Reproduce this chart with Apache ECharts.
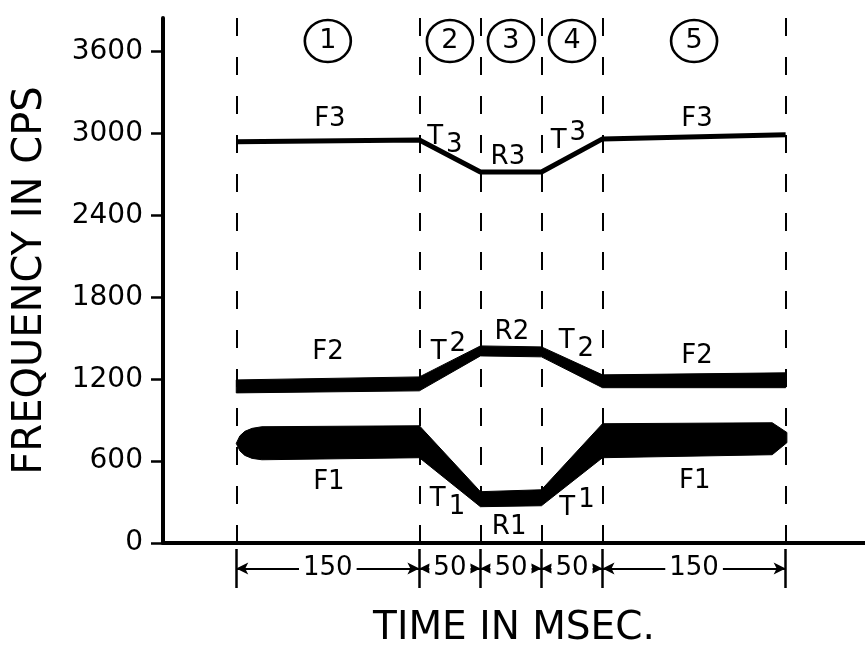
<!DOCTYPE html>
<html><head><meta charset="utf-8">
<script src="https://cdn.jsdelivr.net/npm/echarts@6/dist/echarts.min.js"></script>
<style>html,body{margin:0;padding:0;background:#fff}#c{width:865px;height:657px}</style>
</head><body><div id="c"></div>
<script>
// ---- data (times in ms, frequencies in cps) ----
const segBounds = [0, 150, 200, 250, 300, 450];
const segLabels = ['150', '50', '50', '50', '150'];
const segNumbers = ['1', '2', '3', '4', '5'];
const yTicks = [0, 600, 1200, 1800, 2400, 3000, 3600];

const f1Time = [0, 3, 7, 13, 21, 150, 200, 250, 300, 439, 451];
const f1Low  = [730, 675, 642, 620, 610, 625, 266, 273, 625, 647, 735];
const f1High = [730, 785, 818, 840, 852, 859, 376, 390, 874, 881, 810];

const f2Time = [0, 150, 200, 250, 300, 450];
const f2Low  = [1100, 1115, 1371, 1364, 1138, 1138];
const f2High = [1195, 1217, 1444, 1437, 1232, 1247];

const f3Time = [0, 150, 200, 250, 300, 450];
const f3Freq = [2941, 2953, 2719, 2719, 2961, 2991];

// annotation anchors (ms, cps)
const annText = ['F3', 'T3', 'R3', 'T3', 'F3', 'F2', 'T2', 'R2', 'T2', 'F2', 'F1', 'T1', 'R1', 'T1', 'F1'];
const annKind = ['', 'sub', '', 'sup', '', '', 'sup', '', 'sub', '', '', 'sub', '', 'sup', ''];
const annX = [76.7, 170.9, 222.5, 272.1, 377.4, 75.1, 173.8, 225.8, 278.6, 377.4, 75.9, 173.0, 223.5, 279.1, 375.6];
const annY = [3107, 2972, 2829, 2943, 3107, 1401, 1397, 1547, 1478, 1372, 442, 324, 119, 251, 449];
const circleLevel = 3678;

const FONT = 'DejaVu Sans';
const yMax = 3847;

const chart = echarts.init(document.getElementById('c'), null, {renderer: 'canvas'});

const pairs = (xs, ys) => xs.map((x, i) => [x, ys[i]]);
const segMid = segLabels.map((_, i) => (segBounds[i] + segBounds[i + 1]) / 2);
const bands = [
  {t: f1Time, lo: f1Low, hi: f1High},
  {t: f2Time, lo: f2Low, hi: f2High}
];

const option = {
  animation: false,
  backgroundColor: '#fff',
  textStyle: {fontFamily: FONT, color: '#000'},
  grid: [
    {left: 163, right: 0, top: 18, bottom: 114, containLabel: false},
    {left: 163, right: 0, top: 549, height: 39}
  ],
  xAxis: [
    {
      type: 'value', gridIndex: 0, min: -60, max: 515,
      axisLine: {show: true, lineStyle: {color: '#000', width: 4}},
      axisTick: {show: false}, axisLabel: {show: false}, splitLine: {show: false},
      name: 'TIME IN MSEC.', nameLocation: 'middle', nameGap: 66,
      nameTextStyle: {fontSize: 39, color: '#000', fontFamily: FONT}
    },
    {type: 'value', gridIndex: 1, min: -60, max: 515, show: false}
  ],
  yAxis: [
    {
      type: 'value', gridIndex: 0, min: 0, max: yMax, interval: 600,
      axisLine: {show: true, onZero: false, lineStyle: {color: '#000', width: 4}},
      axisTick: {show: true, length: 12, lineStyle: {color: '#000', width: 2.5}, customValues: yTicks},
      axisLabel: {show: true, margin: 20, fontSize: 28, color: '#000', fontFamily: FONT,
        customValues: yTicks, formatter: v => String(v)},
      splitLine: {show: false},
      name: 'FREQUENCY IN CPS', nameLocation: 'middle', nameGap: 112,
      nameTextStyle: {fontSize: 40, color: '#000', fontFamily: FONT}
    },
    {type: 'value', gridIndex: 1, min: 0, max: 1, show: false}
  ],
  series: [
    // dashed segment boundaries
    {
      type: 'line', xAxisIndex: 0, yAxisIndex: 0, data: [], silent: true,
      markLine: {
        silent: true, symbol: 'none', z: 1, label: {show: false},
        lineStyle: {type: [18, 21], width: 2, color: '#000'},
        data: segBounds.map(v => ({xAxis: v}))
      }
    },
    // F1 and F2 bands
    {
      type: 'custom', xAxisIndex: 0, yAxisIndex: 0, silent: true, z: 3,
      data: bands.map(b => [b.t[0], b.lo[0]]),
      renderItem: (params, api) => {
        const b = bands[params.dataIndex];
        const pts = [];
        for (let i = 0; i < b.t.length; i++) pts.push(api.coord([b.t[i], b.hi[i]]));
        for (let i = b.t.length - 1; i >= 0; i--) pts.push(api.coord([b.t[i], b.lo[i]]));
        return {type: 'polygon', shape: {points: pts}, style: {fill: '#000', stroke: '#000', lineWidth: 1}};
      }
    },
    // F3 line
    {type: 'line', data: pairs(f3Time, f3Freq), symbol: 'none', silent: true,
      lineStyle: {width: 5, color: '#000'}, z: 3},
    // circled segment numbers
    {
      type: 'scatter', data: segMid.map(x => [x, circleLevel]), symbol: 'circle', symbolSize: [46, 42], silent: true,
      itemStyle: {color: 'rgba(0,0,0,0)', borderColor: '#000', borderWidth: 2.5, opacity: 1},
      label: {show: true, position: 'inside', fontSize: 27, color: '#000', fontFamily: FONT,
        formatter: p => segNumbers[p.dataIndex]}, z: 4
    },
    // formant labels
    {
      type: 'scatter', data: pairs(annX, annY), symbol: 'circle', symbolSize: 1, silent: true,
      itemStyle: {color: 'rgba(0,0,0,0)', opacity: 1},
      label: {
        show: true, position: 'inside', color: '#000', fontSize: 26, fontFamily: FONT,
        formatter: p => {
          const t = annText[p.dataIndex], k = annKind[p.dataIndex];
          if (!k) return '{b|' + t + '}';
          return '{b|' + t.charAt(0) + '}{' + k + '|' + t.slice(1) + '}';
        },
        rich: {
          b: {fontSize: 26, fontFamily: FONT, color: '#000'},
          sub: {fontSize: 26, fontFamily: FONT, color: '#000', padding: [16, 0, 0, 3]},
          sup: {fontSize: 26, fontFamily: FONT, color: '#000', padding: [0, 0, 16, 3]}
        }
      }, z: 5
    },
    // dimension bars under the axis
    {
      type: 'line', xAxisIndex: 1, yAxisIndex: 1, data: [], silent: true,
      markLine: {
        silent: true, symbol: 'none', label: {show: false},
        lineStyle: {type: 'solid', width: 2.5, color: '#000'},
        data: segBounds.map(v => ({xAxis: v}))
      }
    },
    // dimension arrows
    {
      type: 'line', xAxisIndex: 1, yAxisIndex: 1, data: [], silent: true,
      markLine: {
        silent: true, symbol: ['arrow', 'arrow'], symbolSize: [9, 12], label: {show: false},
        lineStyle: {type: 'solid', width: 2, color: '#000'},
        data: segLabels.map((_, i) => [{coord: [segBounds[i], 0.5]}, {coord: [segBounds[i + 1], 0.5]}])
      }
    },
    // duration labels
    {
      type: 'scatter', xAxisIndex: 1, yAxisIndex: 1, data: segMid.map(x => [x, 0.5]), symbol: 'circle', symbolSize: 1,
      silent: true, itemStyle: {color: 'rgba(0,0,0,0)', opacity: 1}, z: 6,
      label: {show: true, position: 'inside', fontSize: 26, color: '#000', fontFamily: FONT,
        backgroundColor: '#fff', padding: [0, 4], formatter: p => segLabels[p.dataIndex]}
    }
  ]
};
chart.setOption(option);
</script>
</body></html>
